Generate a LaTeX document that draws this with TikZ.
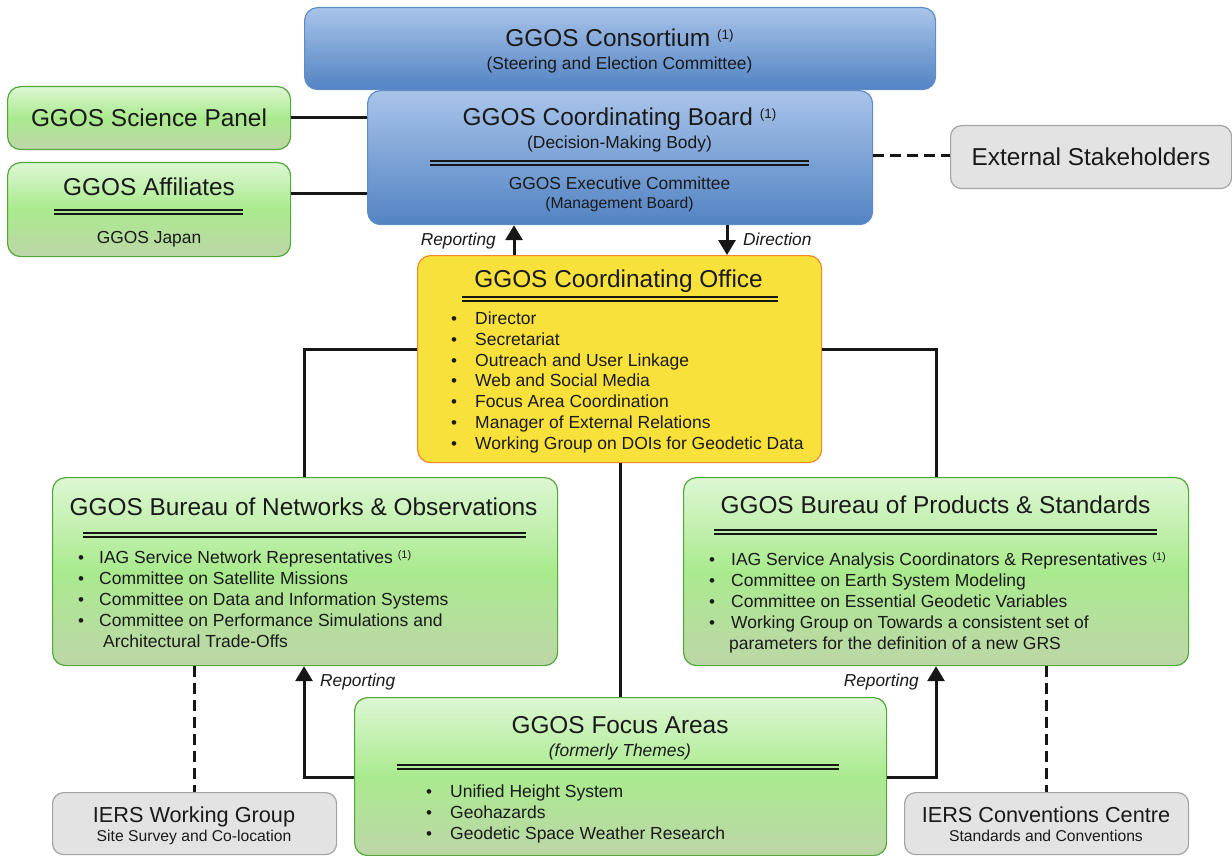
\documentclass[tikz,border=0pt]{standalone}
\usepackage{fontspec}
\setmainfont{Liberation Sans}
\usetikzlibrary{arrows.meta,calc}
\definecolor{txt}{HTML}{1A1A1A}
\definecolor{linec}{HTML}{161616}
\definecolor{bluetop}{HTML}{A9C4EA}
\definecolor{bluebot}{HTML}{5283C3}
\definecolor{bluedraw}{HTML}{5E8CC8}
\definecolor{greentop}{HTML}{DDF7D3}
\definecolor{greenmid}{HTML}{AAEA8E}
\definecolor{greenbot}{HTML}{BDD6A8}
\definecolor{greendraw}{HTML}{52A63A}
\definecolor{yellowfill}{HTML}{F9E13B}
\definecolor{yellowdraw}{HTML}{F0882C}
\definecolor{greyfill}{HTML}{E3E3E3}
\definecolor{greydraw}{HTML}{A3A3A3}
\newcommand\fsz[1]{\fontsize{#1pt}{#1pt}\selectfont}
\newcommand\supbig{\raisebox{7pt}{\fsz{13.5}(1)}}
\newcommand\supsm{\raisebox{4.5pt}{\fsz{11}(1)}}
\begin{document}
\begin{tikzpicture}[x=1pt,y=-1pt,
  box/.style={inner sep=0pt, anchor=north west, line width=1.2pt, rounded corners=13pt},
  bluebox/.style={box, draw=bluedraw, top color=bluetop, bottom color=bluebot},
  greenbox/.style={box, draw=greendraw, top color=greentop, bottom color=greenbot, middle color=greenmid},
  yellowbox/.style={box, draw=yellowdraw, fill=yellowfill},
  greybox/.style={box, draw=greydraw, fill=greyfill, rounded corners=11pt},
  ttl/.style={anchor=base, text=txt, font=\fsz{24.4}, inner sep=0pt},
  ttlsm/.style={anchor=base, text=txt, font=\fsz{21.7}, inner sep=0pt},
  sub/.style={anchor=base, text=txt, font=\fsz{17.4}, inner sep=0pt},
  subsm/.style={anchor=base, text=txt, font=\fsz{15.7}, inner sep=0pt},
  item/.style={anchor=base west, text=txt, font=\fsz{17.5}, inner sep=0pt},
  dot/.style={anchor=base, text=txt, font=\fsz{17}, inner sep=0pt},
  lbl/.style={text=txt, font=\fsz{17.3}\itshape, inner sep=0pt},
  conn/.style={line width=3pt, draw=linec},
  arr/.style={conn, -{Triangle[length=15pt,width=17pt]}},
  dsh/.style={conn, dash pattern=on 11pt off 6pt},
  dbl/.style={line width=1.5pt, draw=linec}
]
\useasboundingbox (0,0) rectangle (1232,856);

% ---------- boxes ----------
\node[bluebox, minimum width=631pt, minimum height=82pt] (cons) at (304,7) {};
\node[bluebox, minimum width=505pt, minimum height=134pt] (board) at (367,90) {};
\node[greenbox, minimum width=283pt, minimum height=63pt] (sci) at (7,86) {};
\node[greenbox, minimum width=283pt, minimum height=94pt] (aff) at (7,162) {};
\node[greybox, minimum width=281pt, minimum height=63pt] (ext) at (950,125) {};
\node[yellowbox, minimum width=404pt, minimum height=207pt] (office) at (417,255) {};
\node[greenbox, minimum width=505pt, minimum height=188pt] (bno) at (52,477) {};
\node[greenbox, minimum width=505pt, minimum height=188pt] (bps) at (683,477) {};
\node[greenbox, minimum width=532pt, minimum height=158pt] (focus) at (354,697) {};
\node[greybox, minimum width=284pt, minimum height=62pt] (iwg) at (52,792) {};
\node[greybox, minimum width=284pt, minimum height=62pt] (icc) at (904,792) {};

% ---------- texts ----------
\node[ttl] (consT) at (619.5,46.8) {GGOS Consortium \supbig};
\node[sub] (consS) at (619.5,69.2) {(Steering and Election Committee)};
\node[ttl] (boardT) at (619.5,125.8) {GGOS Coordinating Board \supbig};
\node[sub] (boardS) at (619.5,148.2) {(Decision-Making Body)};
\draw[dbl] (430,161.2) -- (809,161.2);
\draw[dbl] (430,164.8) -- (809,164.8);
\node[sub] (execT) at (619.5,189.2) {GGOS Executive Committee};
\node[subsm] (execS) at (619.5,208.6) {(Management Board)};

\node[ttl] (sciT) at (149,126.8) {GGOS Science Panel};
\node[ttl] (affT) at (149,195.8) {GGOS Affiliates};
\draw[dbl] (54,210.2) -- (243,210.2);
\draw[dbl] (54,213.8) -- (243,213.8);
\node[sub] (affS) at (149,243.2) {GGOS Japan};
\node[ttl] (extT) at (1091,165.8) {External Stakeholders};

\node[ttl] (officeT) at (618.5,287.8) {GGOS Coordinating Office};
\draw[dbl] (462,297.2) -- (778,297.2);
\draw[dbl] (462,300.8) -- (778,300.8);
\foreach \t [count=\i from 0] in {Director, Secretariat, Outreach and User Linkage, Web and Social Media, Focus Area Coordination, Manager of External Relations, Working Group on DOIs for Geodetic Data} {
  \node[dot] (cod\i) at (454,{324.3+20.85*\i}) {•};
  \node[item] (coi\i) at (475,{324.3+20.85*\i}) {\t};
}

\node[ttl] (bnoT) at (303.5,515.8) {GGOS Bureau of Networks \& Observations};
\draw[dbl] (83,533.2) -- (526,533.2);
\draw[dbl] (83,536.8) -- (526,536.8);
\foreach \t [count=\i from 0] in {IAG Service Network Representatives \supsm, Committee on Satellite Missions, Committee on Data and Information Systems, Committee on Performance Simulations and} {
  \node[dot] (bnd\i) at (81,{563.3+21.1*\i}) {•};
  \node[item] (bni\i) at (99,{563.3+21.1*\i}) {\t};
}
\node[item] (bni4) at (103,647.8) {Architectural Trade-Offs};

\node[ttl] (bpsT) at (935.5,513.8) {GGOS Bureau of Products \& Standards};
\draw[dbl] (714,530.2) -- (1157,530.2);
\draw[dbl] (714,533.8) -- (1157,533.8);
\foreach \t [count=\i from 0] in {IAG Service Analysis Coordinators \& Representatives \supsm, Committee on Earth System Modeling, Committee on Essential Geodetic Variables, Working Group on Towards a consistent set of} {
  \node[dot] (bpd\i) at (712,{565.3+21*\i}) {•};
  \node[item] (bpi\i) at (731,{565.3+21*\i}) {\t};
}
\node[item] (bpi4) at (729,649.3) {parameters for the definition of a new GRS};

\node[ttl] (focusT) at (620,733.8) {GGOS Focus Areas};
\node[sub, font=\fsz{17.4}\itshape] (focusS) at (620,756.2) {(formerly Themes)};
\draw[dbl] (397,765.2) -- (839,765.2);
\draw[dbl] (397,768.8) -- (839,768.8);
\foreach \t [count=\i from 0] in {Unified Height System, Geohazards, Geodetic Space Weather Research} {
  \node[dot] (fad\i) at (429,{797.3+21*\i}) {•};
  \node[item] (fai\i) at (450,{797.3+21*\i}) {\t};
}

\node[ttlsm] (iwgT) at (194,822.8) {IERS Working Group};
\node[subsm] (iwgS) at (194,841.6) {Site Survey and Co-location};
\node[ttlsm] (iccT) at (1046,822.8) {IERS Conventions Centre};
\node[subsm] (iccS) at (1046,841.6) {Standards and Conventions};

% ---------- connector helpers ----------
\coordinate (xrep) at (514,0);
\coordinate (xdir) at (727,0);
\coordinate (xl) at (304,0);
\coordinate (xr) at (936,0);
\coordinate (xm) at (620,0);
\coordinate (xdl) at (194,0);
\coordinate (xdr) at (1046,0);
\coordinate (ys) at (0,349);
\coordinate (yf) at (0,777);
\coordinate (ysci) at (0,118);
\coordinate (yaff) at (0,193);
\coordinate (yext) at (0,156);

% ---------- connectors ----------
\draw[conn] (sci.east |- ysci) -- (board.west |- ysci);
\draw[conn] (aff.east |- yaff) -- (board.west |- yaff);
\draw[dsh] (board.east |- yext) -- (ext.west |- yext);

\draw[arr] (office.north -| xrep) -- (board.south -| xrep);
\draw[arr] (board.south -| xdir) -- (office.north -| xdir);
\node[lbl, anchor=base east] (rep1) at (496,245) {Reporting};
\node[lbl, anchor=base west] (dir1) at (743,245) {Direction};

\draw[conn] (office.west |- ys) -| (xl |- bno.north);
\draw[conn] (office.east |- ys) -| (xr |- bps.north);
\draw[conn] (office.south -| xm) -- (focus.north -| xm);

\draw[arr] (focus.west |- yf) -| (xl |- bno.south);
\draw[arr] (focus.east |- yf) -| (xr |- bps.south);
\node[lbl, anchor=base west] (rep2) at (320,686) {Reporting};
\node[lbl, anchor=base east] (rep3) at (919,686) {Reporting};

\draw[dsh] (bno.south -| xdl) -- (iwg.north -| xdl);
\draw[dsh] (bps.south -| xdr) -- (icc.north -| xdr);
\end{tikzpicture}
\end{document}
